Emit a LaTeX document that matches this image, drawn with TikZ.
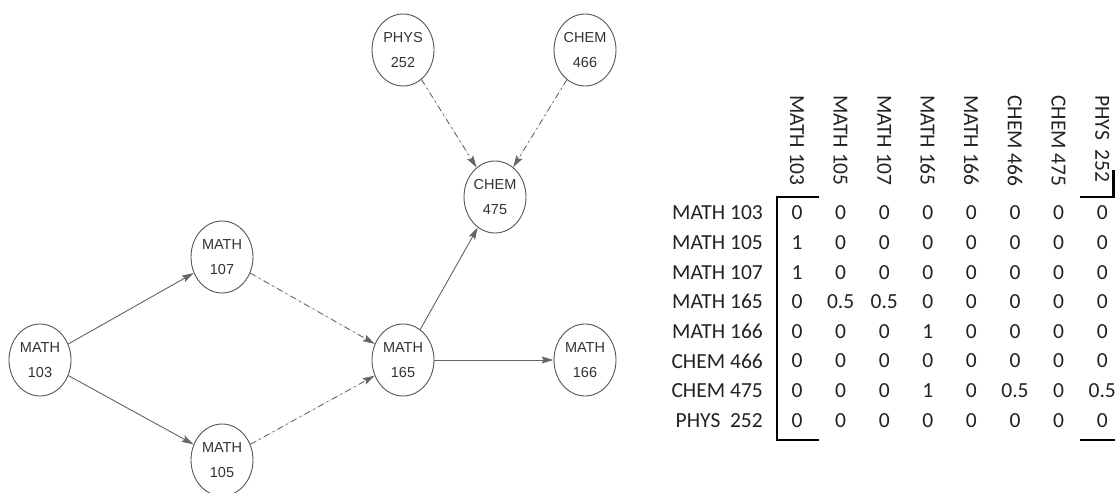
\documentclass[tikz,border=0pt]{standalone}
\usepackage{fontspec}
\setmainfont{Carlito}
\newfontfamily\graphfont{Liberation Sans}
\usetikzlibrary{arrows.meta,shapes.geometric}
\definecolor{edgegray}{HTML}{666666}
\definecolor{nodegray}{HTML}{555555}
\definecolor{textgray}{HTML}{333333}
\definecolor{cellgray}{HTML}{222222}

\begin{document}
\begin{tikzpicture}[
  x=1pt, y=-1pt,
  course/.style={ellipse, draw=nodegray, line width=0.9pt, fill=white,
                 minimum width=62pt, minimum height=72pt, inner sep=0pt,
                 align=center, text=textgray,
                 font=\graphfont\fontsize{14.5}{25}\selectfont},
  arr/.style={-{Stealth[length=12pt, width=7pt, inset=2pt]}, line width=0.9pt,
              draw=edgegray, fill=edgegray},
  darr/.style={arr, dash pattern=on 6pt off 4pt on 1.5pt off 4pt},
  cell/.style={inner sep=0pt, text=cellgray, font=\fontsize{21.5}{24}\selectfont},
  brk/.style={line width=2.4pt, black},
]
\useasboundingbox (0,0) rectangle (1115,492);

%% Prerequisite graph
\node[course] (m103) at (40,360)  {MATH\\103};
\node[course] (m107) at (222,257) {MATH\\107};
\node[course] (m105) at (222,460) {MATH\\105};
\node[course] (m165) at (403,360) {MATH\\165};
\node[course] (m166) at (585,360) {MATH\\166};
\node[course] (c475) at (495,197) {CHEM\\475};
\node[course] (p252) at (403,50)  {PHYS\\252};
\node[course] (c466) at (585,50)  {CHEM\\466};

%% Arrows
\draw[arr] (m103) -- (m107);
\draw[arr] (m103) -- (m105);
\draw[darr] (m107) -- (m165);
\draw[darr] (m105) -- (m165);
\draw[arr] (m165) -- (m166);
\draw[arr] (m165) -- (c475);
\draw[darr] (p252) -- (c475);
\draw[darr] (c466) -- (c475);

%% Matrix headers
\foreach \lab [count=\j] in {MATH 103,MATH 105,MATH 107,MATH 165,MATH 166,CHEM 466,CHEM 475,PHYS\ \ 252}
  \node[cell, rotate=-90, anchor=west] (ch\j) at ({797+43.6*(\j-1)},95) {\lab};
\foreach \lab [count=\i] in {MATH 103,MATH 105,MATH 107,MATH 165,MATH 166,CHEM 466,CHEM 475,PHYS\ \ 252}
  \node[cell, anchor=east] (rl\i) at (763,{213+29.6*(\i-1)}) {\lab};

%% Matrix entries
\foreach \row [count=\i] in {{0,0,0,0,0,0,0,0},{1,0,0,0,0,0,0,0},{1,0,0,0,0,0,0,0},
    {0,0.5,0.5,0,0,0,0,0},{0,0,0,1,0,0,0,0},{0,0,0,0,0,0,0,0},
    {0,0,0,1,0,0.5,0,0.5},{0,0,0,0,0,0,0,0}}
  \foreach \v [count=\j] in \row
    \node[cell] (v\i-\j) at ({797+43.6*(\j-1)},{213+29.6*(\i-1)}) {\v};

%% Brackets
\draw[brk] (819,197) -- (777,197) -- (777,440) -- (819,440);
\draw[brk] (1080,197) -- (1115,197);
\draw[brk] (1080,440) -- (1115,440);
\draw[brk] (1113.5,170) -- (1113.5,197);

\end{tikzpicture}
\end{document}
